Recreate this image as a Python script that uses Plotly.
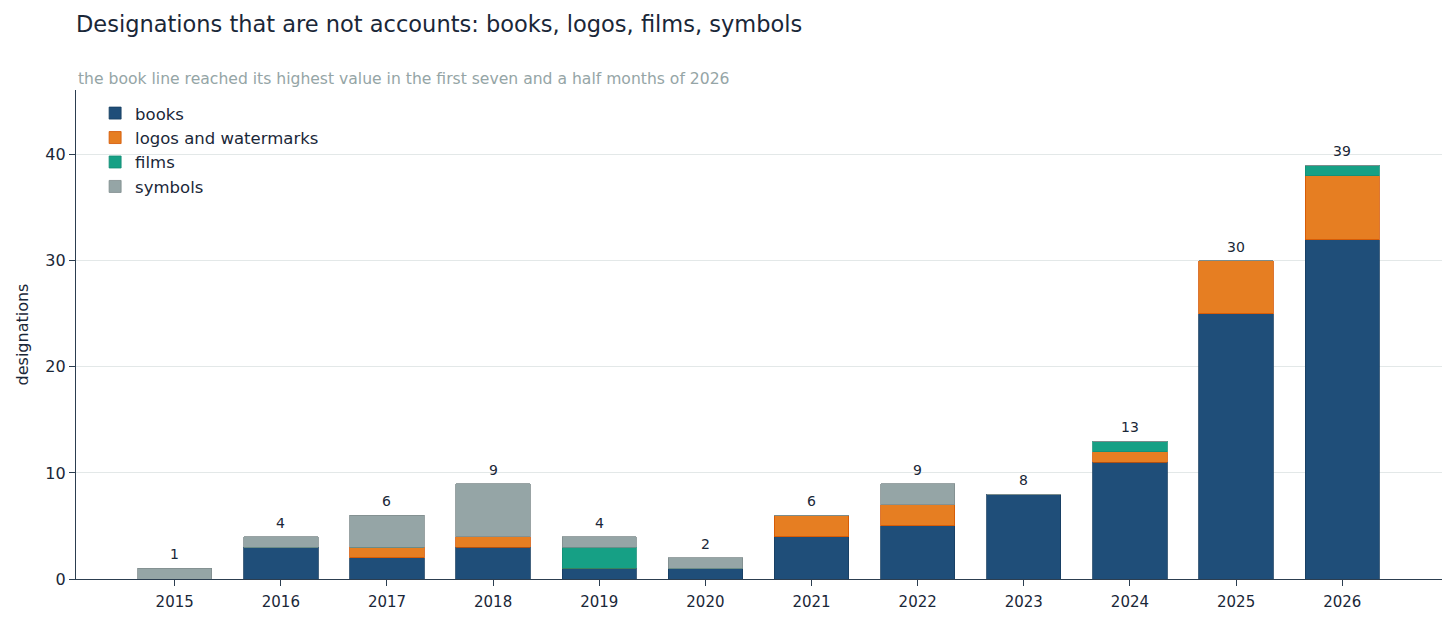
import plotly.graph_objects as go

# values
years = [2015, 2016, 2017, 2018, 2019, 2020, 2021, 2022, 2023, 2024, 2025, 2026]
books = [0, 3, 2, 3, 1, 1, 4, 5, 8, 11, 25, 32]
logos = [0, 0, 1, 1, 0, 0, 2, 2, 0, 1, 5, 6]
films = [0, 0, 0, 0, 2, 0, 0, 0, 0, 1, 0, 1]
symbols = [1, 1, 3, 5, 1, 1, 0, 2, 0, 0, 0, 0]

TEXT = '#1a2738'
FONT = 'DejaVu Sans, sans-serif'

series = [
    ('books', books, '#1f4e79', '#173d60'),
    ('logos and watermarks', logos, '#e67e22', '#d35400'),
    ('films', films, '#16a085', '#138d75'),
    ('symbols', symbols, '#95a5a6', '#7f8c8d'),
]

fig = go.Figure()
for name, vals, col, edge in series:
    fig.add_trace(go.Bar(
        x=years, y=vals, name=name, width=0.7,
        marker=dict(color=col, line=dict(color=edge, width=0.8)),
    ))

totals = [b + l + f + s for b, l, f, s in zip(books, logos, films, symbols)]
for yr, t in zip(years, totals):
    fig.add_annotation(x=yr, y=t, text=str(t), showarrow=False, yshift=14,
                       font=dict(size=14, color=TEXT, family=FONT))

# page body adds an 8px offset, margins compensate
fig.update_layout(
    barmode='stack',
    width=1456, height=624,
    margin=dict(l=68, r=22, t=82, b=53),
    plot_bgcolor='white', paper_bgcolor='white',
    font=dict(family=FONT, color=TEXT, size=15),
    title=dict(text='Designations that are not accounts: books, logos, films, symbols',
               x=68 / 1456, xanchor='left', y=1 - 16 / 624, yanchor='middle',
               font=dict(size=22.5, color=TEXT, family=FONT)),
    legend=dict(x=0.014, y=0.988, xanchor='left', yanchor='top',
                bgcolor='rgba(255,255,255,0)', font=dict(size=16.5, color=TEXT),
                traceorder='normal', itemwidth=30, tracegroupgap=2),
    showlegend=True,
)
fig.add_annotation(text='the book line reached its highest value in the first seven and a half months of 2026',
                   xref='paper', yref='paper', x=0, y=1, yshift=0, xanchor='left', yanchor='bottom',
                   showarrow=False, font=dict(size=15.6, color='#95a5a6', family=FONT))

fig.update_xaxes(range=[2014.07, 2026.94], tickmode='array', tickvals=years,
                 ticktext=[str(y) for y in years], showgrid=False,
                 showline=True, linecolor='#2c3e50', linewidth=1.3,
                 ticks='outside', ticklen=6, tickcolor='#2c3e50',
                 ticklabelstandoff=3,
                 tickfont=dict(size=15, color=TEXT))
fig.update_yaxes(range=[0, 46.1], tickvals=[0, 10, 20, 30, 40],
                 showgrid=True, gridcolor='#e3e8e8', gridwidth=1,
                 showline=True, linecolor='#2c3e50', linewidth=1.3,
                 ticks='outside', ticklen=6, tickcolor='#2c3e50',
                 zeroline=False, automargin=False,
                 title=dict(text='designations', font=dict(size=16, color=TEXT), standoff=12),
                 tickfont=dict(size=16, color=TEXT))

fig.write_html("out.html")
